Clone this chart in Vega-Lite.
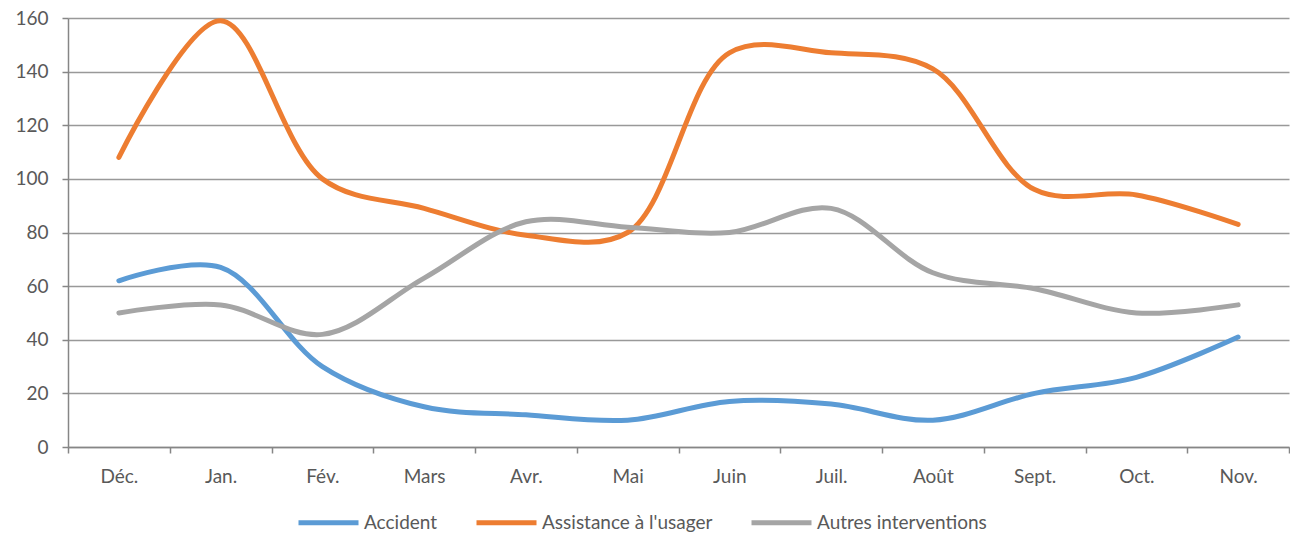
{
  "$schema": "https://vega.github.io/schema/vega-lite/v6.json",
  "autosize": {"type": "none"},
  "width": 1221,
  "height": 429,
  "padding": {"left": 68, "top": 18, "right": 1, "bottom": 88},
  "background": "white",
  "config": {
    "view": {"stroke": null},
    "font": "Lato",
    "axis": {"labelFont": "Lato", "labelColor": "#595959", "labelFontSize": 19}
  },
  "data": {
    "values": [
      {"mois": "Déc.", "serie": "Accident", "v": 62},
      {"mois": "Jan.", "serie": "Accident", "v": 67},
      {"mois": "Fév.", "serie": "Accident", "v": 30},
      {"mois": "Mars", "serie": "Accident", "v": 15},
      {"mois": "Avr.", "serie": "Accident", "v": 12},
      {"mois": "Mai", "serie": "Accident", "v": 10},
      {"mois": "Juin", "serie": "Accident", "v": 17},
      {"mois": "Juil.", "serie": "Accident", "v": 16},
      {"mois": "Août", "serie": "Accident", "v": 10},
      {"mois": "Sept.", "serie": "Accident", "v": 20},
      {"mois": "Oct.", "serie": "Accident", "v": 26},
      {"mois": "Nov.", "serie": "Accident", "v": 41},
      {"mois": "Déc.", "serie": "Assistance à l'usager", "v": 108},
      {"mois": "Jan.", "serie": "Assistance à l'usager", "v": 159},
      {"mois": "Fév.", "serie": "Assistance à l'usager", "v": 100},
      {"mois": "Mars", "serie": "Assistance à l'usager", "v": 89},
      {"mois": "Avr.", "serie": "Assistance à l'usager", "v": 79},
      {"mois": "Mai", "serie": "Assistance à l'usager", "v": 80},
      {"mois": "Juin", "serie": "Assistance à l'usager", "v": 147},
      {"mois": "Juil.", "serie": "Assistance à l'usager", "v": 147},
      {"mois": "Août", "serie": "Assistance à l'usager", "v": 141},
      {"mois": "Sept.", "serie": "Assistance à l'usager", "v": 96},
      {"mois": "Oct.", "serie": "Assistance à l'usager", "v": 94},
      {"mois": "Nov.", "serie": "Assistance à l'usager", "v": 83},
      {"mois": "Déc.", "serie": "Autres interventions", "v": 50},
      {"mois": "Jan.", "serie": "Autres interventions", "v": 53},
      {"mois": "Fév.", "serie": "Autres interventions", "v": 42},
      {"mois": "Mars", "serie": "Autres interventions", "v": 63},
      {"mois": "Avr.", "serie": "Autres interventions", "v": 84},
      {"mois": "Mai", "serie": "Autres interventions", "v": 82},
      {"mois": "Juin", "serie": "Autres interventions", "v": 80},
      {"mois": "Juil.", "serie": "Autres interventions", "v": 89},
      {"mois": "Août", "serie": "Autres interventions", "v": 65},
      {"mois": "Sept.", "serie": "Autres interventions", "v": 59},
      {"mois": "Oct.", "serie": "Autres interventions", "v": 50},
      {"mois": "Nov.", "serie": "Autres interventions", "v": 53}
    ]
  },
  "mark": {"type": "line", "interpolate": "catmull-rom", "strokeWidth": 5, "strokeCap": "round"},
  "encoding": {
    "x": {
      "field": "mois", "type": "ordinal", "sort": null,
      "scale": {"type": "band", "paddingInner": 0, "paddingOuter": 0},
      "axis": {
        "title": null, "labelAngle": 0, "tickBand": "extent", "ticks": true,
        "tickSize": 6, "tickColor": "#868686", "tickWidth": 1.5,
        "domainColor": "#868686", "domainWidth": 1.5,
        "labelPadding": 14, "grid": false
      }
    },
    "y": {
      "field": "v", "type": "quantitative",
      "scale": {"domain": [0, 160]},
      "axis": {
        "title": null, "values": [0, 20, 40, 60, 80, 100, 120, 140, 160],
        "grid": true, "gridColor": "#999999", "gridWidth": 1.5,
        "tickSize": 6, "tickColor": "#868686", "tickWidth": 1.5,
        "domainColor": "#868686", "domainWidth": 1.5,
        "labelPadding": 14
      }
    },
    "color": {
      "field": "serie", "type": "nominal",
      "scale": {"domain": ["Accident", "Assistance à l'usager", "Autres interventions"], "range": ["#5B9BD5", "#ED7D31", "#A5A5A5"]},
      "legend": {
        "title": null, "orient": "none", "direction": "horizontal",
        "legendX": 228, "legendY": 472,
        "symbolType": "stroke", "symbolSize": 3600, "symbolStrokeWidth": 5,
        "labelFontSize": 19, "labelColor": "#595959", "labelFont": "Lato",
        "labelLimit": 400,
        "labelOffset": 3, "columnPadding": 28
      }
    }
  }
}
